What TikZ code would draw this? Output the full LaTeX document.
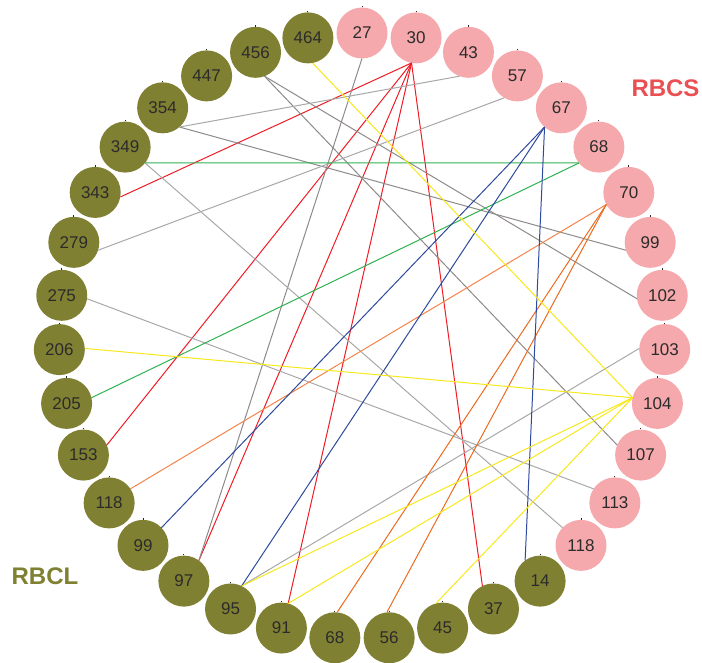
\documentclass[tikz,border=0pt]{standalone}
\usepackage{fontspec}
\setmainfont{Liberation Sans}
\usetikzlibrary{calc}
\definecolor{pinkc}{HTML}{F5A9AC}
\definecolor{olivec}{HTML}{808033}
\definecolor{txtc}{HTML}{2B2B2B}
\definecolor{redc}{HTML}{EE1C25}
\definecolor{grayd}{HTML}{8E8A8A}
\definecolor{grayl}{HTML}{A8A8A8}
\definecolor{greenc}{HTML}{2FB150}
\definecolor{bluec}{HTML}{2E4A9E}
\definecolor{orangel}{HTML}{F5844A}
\definecolor{oranged}{HTML}{EC6A1E}
\definecolor{yellowc}{HTML}{F7E81C}
\definecolor{rbcsc}{HTML}{EA5053}
\begin{document}
\begin{tikzpicture}[x=1pt,y=1pt,
  vert/.style={circle,minimum size=51pt,inner sep=0pt,text=txtc,font=\fontsize{17}{20}\selectfont},
  edge/.style={line width=1pt},
  tickmark/.style={line width=0.9pt,black!85},
  grouplabel/.style={font=\fontsize{24}{28}\selectfont\bfseries}]
\useasboundingbox (0,0) rectangle (702,663);
\coordinate (O) at (362,327);
\foreach \lab/\nm/\col [count=\i from 0] in {27/p27/pinkc,30/p30/pinkc,43/p43/pinkc,57/p57/pinkc,67/p67/pinkc,68/p68/pinkc,70/p70/pinkc,99/p99/pinkc,102/p102/pinkc,103/p103/pinkc,104/p104/pinkc,107/p107/pinkc,113/p113/pinkc,118/p118/pinkc,14/g14/olivec,37/g37/olivec,45/g45/olivec,56/g56/olivec,68/g68/olivec,91/g91/olivec,95/g95/olivec,97/g97/olivec,99/g99/olivec,118/g118/olivec,153/g153/olivec,205/g205/olivec,206/g206/olivec,275/g275/olivec,279/g279/olivec,343/g343/olivec,349/g349/olivec,354/g354/olivec,447/g447/olivec,456/g456/olivec,464/g464/olivec}{
  \pgfmathsetmacro\ang{90-\i*360/35}
  \node[vert,fill=\col] (\nm) at ($(O)+(\ang:303)$) {\lab};
  \coordinate (\nm-a) at ($(O)+(\ang:277.5)$);
  \draw[tickmark] (\nm.north) -- ++(0,1.3);
}
% red
\draw[edge,redc] (p30-a) -- (g343.-10);
\foreach \t in {g153,g97,g91,g37} \draw[edge,redc] (p30-a) -- (\t-a);
% gray
\draw[edge,grayd] (p27-a) -- (g97-a);
\draw[edge,grayd] (g456-a) -- (p102-a);
\draw[edge,grayd] (g456-a) -- (p107-a);
\draw[edge,grayd] (g354-a) -- (p99-a);
\draw[edge,grayl] (p43-a) -- (g354-a);
\draw[edge,grayl] (p57-a) -- (g279-a);
\draw[edge,grayl] (g349-a) -- (p118-a);
\draw[edge,grayl] (g275-a) -- (p113-a);
\draw[edge,grayl] (g95-a) -- (p103-a);
% green
\draw[edge,greenc] (p68-a) -- (g349-a);
\draw[edge,greenc] (p68-a) -- (g205-a);
% orange
\draw[edge,orangel] (p70-a) -- (g118-a);
\draw[edge,oranged] (p70-a) -- (g68-a);
\draw[edge,oranged] (p70-a) -- (g56-a);
% blue
\foreach \t in {g99,g95,g14} \draw[edge,bluec] (p67-a) -- (\t-a);
% yellow
\foreach \t in {g464,g206,g95,g91,g45} \draw[edge,yellowc] (p104-a) -- (\t-a);
% group labels
\node[grouplabel,text=rbcsc] (rbcs) at (665.5,574.5) {RBCS};
\node[grouplabel,text=olivec] (rbcl) at (45,86.5) {RBCL};
\end{tikzpicture}
\end{document}
